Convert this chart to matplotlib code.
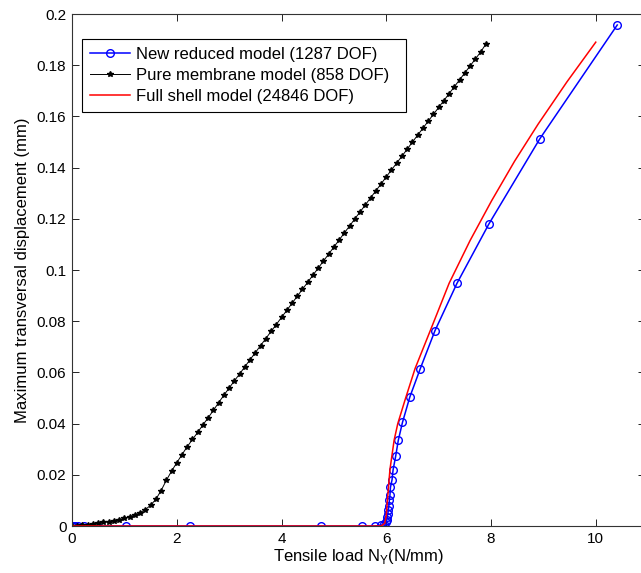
import matplotlib.pyplot as plt
from matplotlib.ticker import FuncFormatter

plt.rcParams['font.family'] = ['Liberation Sans', 'DejaVu Sans']

# New reduced model (blue circles)
reduced_x = [0, 0.03, 0.06, 0.12, 0.23, 0.48, 1.04, 2.25, 4.75, 5.53, 5.78, 5.9, 5.96, 5.99,
             6.01, 6.02, 6.03, 6.04, 6.05, 6.06, 6.07, 6.08, 6.11, 6.13, 6.18, 6.23, 6.31,
             6.45, 6.65, 6.93, 7.35, 7.96, 8.93, 10.41]
reduced_y = [0, 0, 0, 0, 0, 0, 0, 0, 0, 0, 0, 0.0003, 0.0008, 0.0015,
             0.0025, 0.0035, 0.0048, 0.0063, 0.008, 0.0101, 0.012, 0.0151, 0.018, 0.0219, 0.0273, 0.0335, 0.0405,
             0.0504, 0.0615, 0.0763, 0.0948, 0.118, 0.1512, 0.1957]

# Pure membrane model (black stars)
membrane_x = [0.0, 0.1, 0.2, 0.3, 0.4, 0.5, 0.6, 0.7, 0.8, 0.9,
              1.0, 1.1, 1.2, 1.3, 1.4, 1.5, 1.6, 1.7, 1.8, 1.9,
              2.0, 2.1, 2.2, 2.3, 2.4, 2.5, 2.6, 2.7, 2.8, 2.9,
              3.0, 3.1, 3.2, 3.3, 3.4, 3.5, 3.6, 3.7, 3.8, 3.9,
              4.0, 4.1, 4.2, 4.3, 4.4, 4.5, 4.6, 4.7, 4.8, 4.9,
              5.0, 5.1, 5.2, 5.3, 5.4, 5.5, 5.6, 5.7, 5.8, 5.9,
              6.0, 6.1, 6.2, 6.3, 6.4, 6.5, 6.6, 6.7, 6.8, 6.9,
              7.0, 7.1, 7.2, 7.3, 7.4, 7.5, 7.6, 7.7, 7.8, 7.9]
membrane_y = [0.0, 0.0001, 0.0003, 0.0005, 0.0008, 0.0011, 0.0014, 0.0017, 0.0021, 0.0025,
              0.003, 0.0036, 0.0043, 0.0052, 0.0064, 0.0081, 0.0104, 0.0138, 0.0178, 0.0214,
              0.0247, 0.0279, 0.031, 0.0338, 0.0366, 0.0395, 0.0423, 0.0452, 0.0482, 0.0511,
              0.0539, 0.0567, 0.0594, 0.0622, 0.065, 0.0677, 0.0705, 0.0732, 0.076, 0.0787,
              0.0815, 0.0842, 0.087, 0.0897, 0.0925, 0.0952, 0.098, 0.1007, 0.1035, 0.1062,
              0.109, 0.1117, 0.1145, 0.1172, 0.12, 0.1227, 0.1254, 0.1282, 0.1309, 0.1336,
              0.1364, 0.1391, 0.1418, 0.1445, 0.1472, 0.15, 0.1527, 0.1554, 0.1581, 0.1608,
              0.1635, 0.1662, 0.1689, 0.1716, 0.1743, 0.177, 0.1797, 0.1824, 0.1851, 0.1882]

# Full shell model (red line)
shell_x = [0, 5.9, 5.97, 6.0, 6.03, 6.07, 6.15, 6.22, 6.37, 6.55, 6.84, 7.2, 7.6, 8.01, 8.45,
           8.9, 9.45, 10.0]
shell_y = [0, 0, 0.001, 0.004, 0.012, 0.022, 0.0335, 0.04, 0.05, 0.0615, 0.0763, 0.0948, 0.1115, 0.127,
           0.1425, 0.157, 0.1735, 0.189]

fig = plt.figure(figsize=(6.41, 5.73), dpi=100)
ax = fig.add_axes([72/641, 47/573, 573/641, 512/573])

ax.plot(reduced_x, reduced_y, color='blue', marker='o', markersize=5.5, markerfacecolor='none',
        linewidth=1.1, label='New reduced model (1287 DOF)')
ax.plot(membrane_x, membrane_y, color='black', marker='*', markersize=3.8,
        linewidth=0.7, label='Pure membrane model (858 DOF)')
ax.plot(shell_x, shell_y, color='red', linewidth=1.1, label='Full shell model (24846 DOF)')

ax.set_xlim(0, 10.94)
ax.set_ylim(0, 0.2)
ax.set_xticks([0, 2, 4, 6, 8, 10])
ax.set_yticks([0, 0.02, 0.04, 0.06, 0.08, 0.1, 0.12, 0.14, 0.16, 0.18, 0.2])
ax.yaxis.set_major_formatter(FuncFormatter(lambda v, p: '%g' % round(v, 4)))
ax.tick_params(direction='in', length=5, width=0.6, labelsize=11, top=True, right=True, pad=4)
for s in ax.spines.values():
    s.set_linewidth(0.8)
    s.set_color('#333333')

ax.set_xlabel(r'Tensile load N$_\mathregular{Y}$(N/mm)', fontsize=12, labelpad=1)
ax.set_ylabel('Maximum transversal displacement (mm)', fontsize=12, labelpad=5)

leg = ax.legend(loc='upper left', bbox_to_anchor=(10/573, 1 - 97/512, 324/573, 72/512),
                mode='expand', borderaxespad=0, fontsize=12,
                fancybox=False, edgecolor='black', framealpha=1, handlelength=2.4,
                handletextpad=0.35, borderpad=0.5, labelspacing=0.35)
leg.get_frame().set_linewidth(0.8)

fig.savefig('out.png', dpi=100)
